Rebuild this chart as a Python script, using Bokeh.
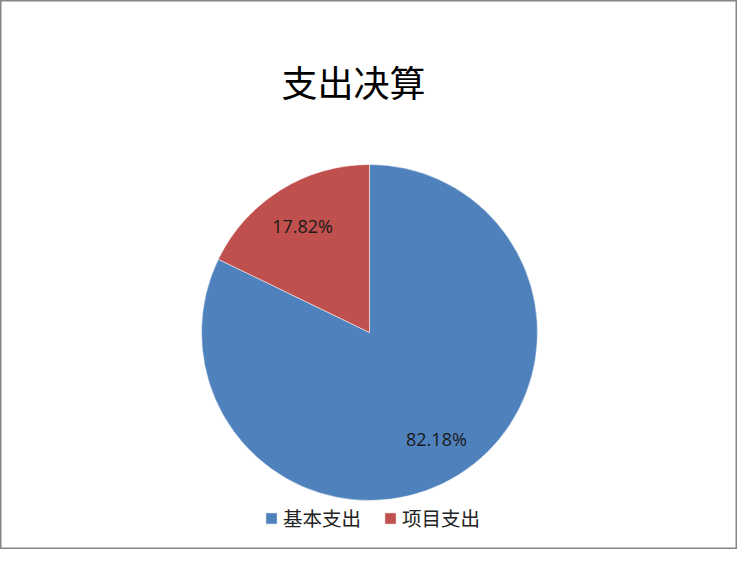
import math
from bokeh.plotting import figure
from bokeh.models import Range1d, ColumnDataSource, Legend, LegendItem
from bokeh.core.properties import value
from bokeh.embed import file_html
from bokeh.resources import INLINE

title_text = "支出决算"
categories = ["基本支出", "项目支出"]
percents = [82.18, 17.82]
colors = ["#4F81BD", "#C0504D"]

W, H = 737, 549
p = figure(width=W, height=H, output_backend="svg", toolbar_location=None,
           x_range=Range1d(0, W), y_range=Range1d(0, H), min_border=0,
           match_aspect=False)
p.xaxis.visible = False
p.yaxis.visible = False
p.grid.visible = False
p.outline_line_color = "#868686"
p.outline_line_width = 2
p.background_fill_color = "white"
p.border_fill_color = "white"

cx, cy, r = 369, 217, 168

# clockwise from 12 o'clock
starts, ends, lx, ly, labels = [], [], [], [], []
a = math.pi / 2
for pct in percents:
    sweep = pct / 100 * 2 * math.pi
    starts.append(a)
    ends.append(a - sweep)
    mid = a - sweep / 2
    lx.append(cx + 0.75 * r * math.cos(mid))
    ly.append(cy + 0.75 * r * math.sin(mid))
    labels.append(f"{pct:.2f}%")
    a -= sweep

src = ColumnDataSource(dict(start=starts, end=ends, color=colors, cat=categories,
                            lx=lx, ly=ly, lab=labels))
w = p.wedge(x=cx, y=cy, radius=r, radius_units="screen", start_angle="start",
            end_angle="end", direction="clock", fill_color="color",
            line_color="white", line_width=0.5, source=src)

p.text(x="lx", y="ly", text="lab", source=src, text_align="center",
       text_baseline="middle", text_font=value("Open Sans"),
       text_font_size="18px", text_color="#1a1a1a")

p.text(x=[353], y=[469], text=[title_text], text_align="center",
       text_baseline="middle", text_font=value("Noto Sans CJK SC"),
       text_font_size="36px", text_color="black")

items = [LegendItem(label=c, renderers=[w], index=i) for i, c in enumerate(categories)]
legend = Legend(items=items, orientation="horizontal", location=(264, 17),
                glyph_width=14, glyph_height=14, label_standoff=5, spacing=22,
                padding=0, margin=0, border_line_alpha=0, background_fill_alpha=0,
                label_text_font="Noto Sans CJK SC", label_text_font_size="19.5px",
                label_text_color="#222222")
p.add_layout(legend, "center")

open("out.html", "w").write(file_html(p, INLINE))
